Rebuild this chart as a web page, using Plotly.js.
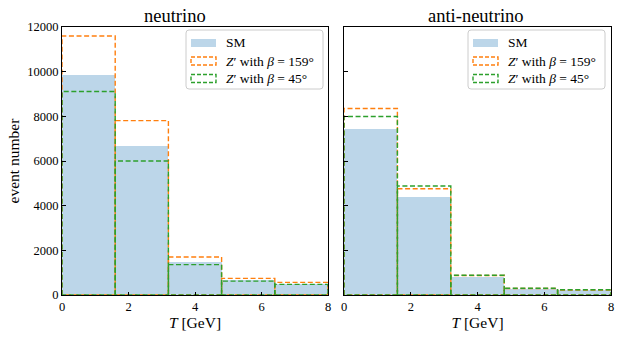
<!DOCTYPE html>
<html><head><meta charset="utf-8">
<script src="https://cdn.plot.ly/plotly-3.0.1.min.js"></script>
<style>html,body{margin:0;padding:0;background:#fff}</style>
</head><body><div id="chart" style="width:623px;height:339px"></div>
<script>
// ---- data ----
const binEdges = [0, 1.6, 3.2, 4.8, 6.4, 8.0];
const nuSM    = [9850, 6670, 1470, 650, 515];
const nuZ159  = [11600, 7810, 1700, 745, 565];
const nuZ45   = [9110, 6000, 1360, 620, 475];
const anuSM   = [7440, 4370, 800, 265, 205];
const anuZ159 = [8350, 4760, 870, 290, 225];
const anuZ45  = [7990, 4880, 885, 300, 232];
const xTicks = [0, 2, 4, 6, 8];
const yTicks = [0, 2000, 4000, 6000, 8000, 10000, 12000];
const yTickLabels = ['0', '2000', '4000', '6000', '8000', '10000', '12000'];
const panelTitles = ['neutrino', 'anti-neutrino'];
const legendLabels = ['SM', '<i>Z</i>′ with <i>β</i> = 159°', '<i>Z</i>′ with <i>β</i> = 45°'];
const xTitle = '<i>T</i> [GeV]';
const yTitle = 'event number';

// ---- styles ----
const FONT = 'Liberation Serif, Times New Roman, serif';
const smColor = 'rgb(188,214,233)';
const orange = '#ff7f0e', green = '#2ca02c';
const DASH = '5px,2.6px';

const centers = binEdges.slice(0, -1).map((e, i) => (e + binEdges[i + 1]) / 2);
const widths = binEdges.slice(0, -1).map((e, i) => binEdges[i + 1] - e);

function outline(vals) {
  const xs = [], ys = [];
  vals.forEach((v, i) => {
    const a = binEdges[i], b = binEdges[i + 1];
    xs.push(a, a, b, b, a, null);
    ys.push(0, v, v, 0, 0, null);
  });
  return {xs, ys};
}

function panel(sm, z159, z45, xa, ya) {
  const o1 = outline(z159), o2 = outline(z45);
  return [
    {type: 'bar', x: centers, y: sm, width: widths, xaxis: xa, yaxis: ya,
     marker: {color: smColor, line: {width: 0}}, showlegend: false, hoverinfo: 'skip'},
    {type: 'scatter', mode: 'lines', x: o1.xs, y: o1.ys, xaxis: xa, yaxis: ya,
     line: {color: orange, width: 1.4, dash: DASH}, showlegend: false, hoverinfo: 'skip'},
    {type: 'scatter', mode: 'lines', x: o2.xs, y: o2.ys, xaxis: xa, yaxis: ya,
     line: {color: green, width: 1.4, dash: DASH}, showlegend: false, hoverinfo: 'skip'}
  ];
}

const data = [].concat(panel(nuSM, nuZ159, nuZ45, 'x', 'y'),
                       panel(anuSM, anuZ159, anuZ45, 'x2', 'y2'));

// pixel -> paper helpers (layout positioning)
const ML = 62, MR = 12, MT = 27, MB = 44, W = 623, H = 339;
const PW = W - ML - MR, PH = H - MT - MB;
const X = p => (p - ML) / PW;
const Y = p => (H - MB - p) / PH;

const axisCommon = {
  showgrid: false, zeroline: false, showline: true, linecolor: '#000', linewidth: 1,
  mirror: true, ticks: 'inside', ticklen: 3.5, tickwidth: 1, tickcolor: '#000',
  tickfont: {family: FONT, size: 12.5, color: '#000'}
};

const shapes = [], annotations = [];

function roundRect(x0, y0, x1, y1, r) {
  const p = (x, y) => X(x) + ',' + Y(y);
  return 'M' + p(x0 + r, y0) + ' L' + p(x1 - r, y0) + ' Q' + p(x1, y0) + ' ' + p(x1, y0 + r) +
         ' L' + p(x1, y1 - r) + ' Q' + p(x1, y1) + ' ' + p(x1 - r, y1) +
         ' L' + p(x0 + r, y1) + ' Q' + p(x0, y1) + ' ' + p(x0, y1 - r) +
         ' L' + p(x0, y0 + r) + ' Q' + p(x0, y0) + ' ' + p(x0 + r, y0) + ' Z';
}

function legend(L, T) {
  shapes.push({type: 'path', xref: 'paper', yref: 'paper', path: roundRect(L, T, L + 137, T + 59, 3),
    line: {color: '#cccccc', width: 1}, fillcolor: 'rgba(255,255,255,0.8)', layer: 'above'});
  const rows = [T + 13, T + 31, T + 48.5];
  const styles = [
    {fillcolor: smColor, line: {width: 0}},
    {fillcolor: 'rgba(0,0,0,0)', line: {color: orange, width: 1.4, dash: '4px,2px'}},
    {fillcolor: 'rgba(0,0,0,0)', line: {color: green, width: 1.4, dash: '4px,2px'}}
  ];
  rows.forEach((cy, i) => {
    shapes.push(Object.assign({type: 'rect', xref: 'paper', yref: 'paper', layer: 'above',
      x0: X(L + 5), x1: X(L + 30), y0: Y(cy - 4), y1: Y(cy + 4)}, styles[i]));
    annotations.push({xref: 'paper', yref: 'paper', x: X(L + 38), y: Y(cy), xanchor: 'left',
      yanchor: 'middle', showarrow: false, text: legendLabels[i],
      font: {family: FONT, size: 13.5, color: '#000'}});
  });
}
legend(186, 30);
legend(468, 30);

annotations.push({xref: 'paper', yref: 'paper', x: X(175), y: Y(16), xanchor: 'center', yanchor: 'middle',
  showarrow: false, text: panelTitles[0], font: {family: FONT, size: 18.5, color: '#000'}});
annotations.push({xref: 'paper', yref: 'paper', x: X(476), y: Y(16), xanchor: 'center', yanchor: 'middle',
  showarrow: false, text: panelTitles[1], font: {family: FONT, size: 18.5, color: '#000'}});

const layout = {
  width: W, height: H, margin: {l: ML, r: MR, t: MT, b: MB},
  paper_bgcolor: '#fff', plot_bgcolor: '#fff', showlegend: false, bargap: 0,
  xaxis: Object.assign({}, axisCommon, {domain: [0, 266 / PW], range: [0, 8], tickvals: xTicks,
    anchor: 'y', title: {text: xTitle, font: {family: FONT, size: 15.5, color: '#000'}, standoff: 4}}),
  xaxis2: Object.assign({}, axisCommon, {domain: [282 / PW, 1], range: [0, 8], tickvals: xTicks,
    anchor: 'y2', title: {text: xTitle, font: {family: FONT, size: 15.5, color: '#000'}, standoff: 4}}),
  yaxis: Object.assign({}, axisCommon, {range: [0, 12000], tickvals: yTicks, ticktext: yTickLabels,
    anchor: 'x', title: {text: yTitle, font: {family: FONT, size: 15.5, color: '#000'}, standoff: 3}}),
  yaxis2: Object.assign({}, axisCommon, {range: [0, 12000], tickvals: yTicks, anchor: 'x2',
    matches: 'y', showticklabels: false}),
  shapes: shapes, annotations: annotations
};

Plotly.newPlot('chart', data, layout, {staticPlot: true, displayModeBar: false});
</script></body></html>
